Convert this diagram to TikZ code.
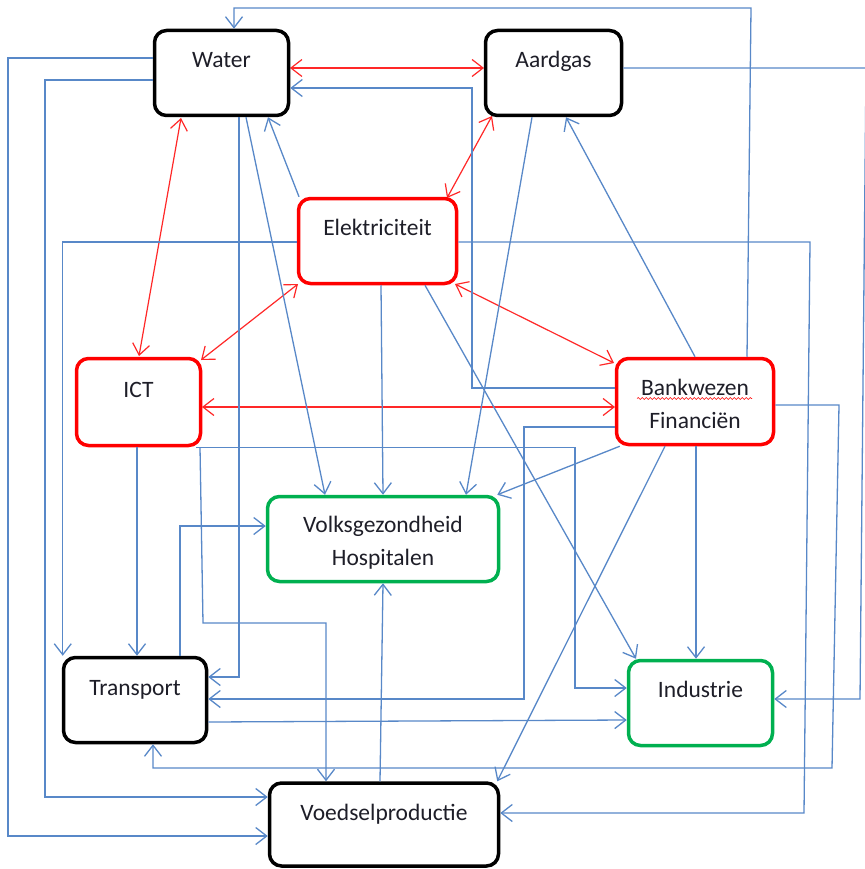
\documentclass[tikz,border=0pt]{standalone}
\usepackage{fontspec}
\setmainfont{Carlito}
\usetikzlibrary{arrows.meta,calc,decorations.pathmorphing}
\definecolor{lnblue}{RGB}{88,136,200}
\definecolor{lnred}{RGB}{255,40,40}
\definecolor{bxred}{RGB}{255,0,0}
\definecolor{bxgreen}{RGB}{0,176,80}
\definecolor{txt}{RGB}{30,30,40}
\tikzset{
  box/.style={draw, rectangle, rounded corners=12pt, line width=3.5pt, fill=white, inner sep=0pt},
  blackbox/.style={box, draw=black},
  redbox/.style={box, draw=bxred},
  greenbox/.style={box, draw=bxgreen},
  lbl/.style={anchor=base, inner sep=0pt, text=txt, font=\fontsize{23.5}{28}\selectfont},
  bl/.style={draw=lnblue, line width=1.3pt, -{Straight Barb[length=11pt,width=17pt]}},
  rd/.style={draw=lnred, line width=1.2pt, {Straight Barb[length=11pt,width=17pt]}-{Straight Barb[length=11pt,width=17pt]}},
}
\begin{document}
\begin{tikzpicture}[x=1pt,y=-1pt]
\useasboundingbox (0,0) rectangle (864,869);
\fill[white] (0,0) rectangle (864,869);

% connectors first (boxes drawn on top later)
% red
\draw[rd] (290,68) -- (484,68);
\draw[rd] (181,118) -- (139,356);
\draw[rd] (492,116) -- (447,198);
\draw[rd] (298,284) -- (201,360);
\draw[rd] (455,284) -- (614,363);
\draw[rd] (202,407) -- (615,407);

% boxes
\node[blackbox, minimum width=134pt, minimum height=85pt] (water) at (221.5,73) {};
\node[blackbox, minimum width=136pt, minimum height=85pt] (aardgas) at (553.5,73) {};
\node[redbox, minimum width=158pt, minimum height=85pt] (elek) at (377.5,241) {};
\node[redbox, minimum width=124pt, minimum height=87pt] (ict) at (138.5,402) {};
\node[redbox, minimum width=157pt, minimum height=86pt] (bank) at (695,401.5) {};
\node[greenbox, minimum width=231pt, minimum height=85pt] (volks) at (383,539) {};
\node[blackbox, minimum width=143pt, minimum height=85pt] (transport) at (135,700) {};
\node[greenbox, minimum width=144pt, minimum height=85pt] (industrie) at (700.5,703) {};
\node[blackbox, minimum width=229pt, minimum height=83pt] (voedsel) at (384,824.5) {};

% texts
\node[lbl] (tWater) at (221.5,68) {Water};
\node[lbl] (tAardgas) at (553.5,68) {Aardgas};
\node[lbl] (tElek) at (377.5,235) {Elektriciteit};
\node[lbl] (tICT) at (138.5,397) {ICT};
\node[lbl] (tBank1) at (695,395) {Bankwezen};
\node[lbl] (tBank2) at (695,428) {Financiën};
\node[lbl] (tVolks1) at (383,532) {Volksgezondheid};
\node[lbl] (tVolks2) at (383,565) {Hospitalen};
\node[lbl] (tTransport) at (135,695) {Transport};
\node[lbl] (tIndustrie) at (700.5,697) {Industrie};
\node[lbl] (tVoedsel) at (384,820) {Voedselproductie};
\draw[bxred, line width=0.6pt, decorate, decoration={snake, amplitude=0.9pt, segment length=4pt}] (637,398.5) -- (752,398.5);

% blue connectors
% from Water
\draw[bl] (water.west |- 0,58) -| (8,836) -- (voedsel.west |- 0,836);
\draw[bl] (water.west |- 0,80) -| (45,797) -- (voedsel.west |- 0,797);
\draw[bl] (239,0 |- water.south) |- (transport.east |- 0,677);
\draw[bl] (246,0 |- water.south) -- (325,0 |- volks.north);
% into Water
\draw[bl] (299,0 |- elek.north) -- (268,0 |- water.south);
\draw[bl] (747,0 |- bank.north) -- (751,8) -| (234,0 |- water.north);
\draw[bl] (bank.west |- 0,388) -| (472,88) -- (water.east |- 0,88);
% Aardgas
\draw[bl] (aardgas.east |- 0,68) -- (866,68) -- (860,699) -- (industrie.east |- 0,699);
\draw[bl] (532,0 |- aardgas.south) -- (466,0 |- volks.north);
\draw[bl] (695,0 |- bank.north) -- (566,0 |- aardgas.south);
% Elektriciteit
\draw[bl] (elek.west |- 0,242) -| ([xshift=1pt]transport.north west);
\draw[bl] (elek.east |- 0,242) -- (810,242) -- (804,813) -- (voedsel.east |- 0,813);
\draw[bl] (381,0 |- elek.south) -- (383,0 |- volks.north);
\draw[bl] (425,0 |- elek.south) -- (636,0 |- industrie.north);
% ICT
\draw[bl] (137,0 |- ict.south) -- (137,0 |- transport.north);
\draw[bl] (200,0 |- ict.south) -- (203,623) -| (326,0 |- voedsel.north);
\draw[bl] ([xshift=-6pt]ict.south east) -| (575,688) -- (industrie.west |- 0,688);
% Bankwezen
\draw[bl] (bank.west |- 0,427) -| (524,699) -- (transport.east |- 0,699);
\draw[bl] ([xshift=5pt]bank.south west) -- ([xshift=-3pt]volks.north east);
\draw[bl] (665,0 |- bank.south) -- ([xshift=-3pt]voedsel.north east);
\draw[bl] (696,0 |- bank.south) -- (696,0 |- industrie.north);
\draw[bl] (bank.east |- 0,405) -- (839,405) -- (832,768) -| (153,0 |- transport.south);
% Transport
\draw[bl] (180,0 |- transport.north) |- (volks.west |- 0,526);
\draw[bl] (transport.east |- 0,722) -- (industrie.west |- 0,720);
% Voedselproductie
\draw[bl] (380,0 |- voedsel.north) -- (383,0 |- volks.south);
\end{tikzpicture}
\end{document}
